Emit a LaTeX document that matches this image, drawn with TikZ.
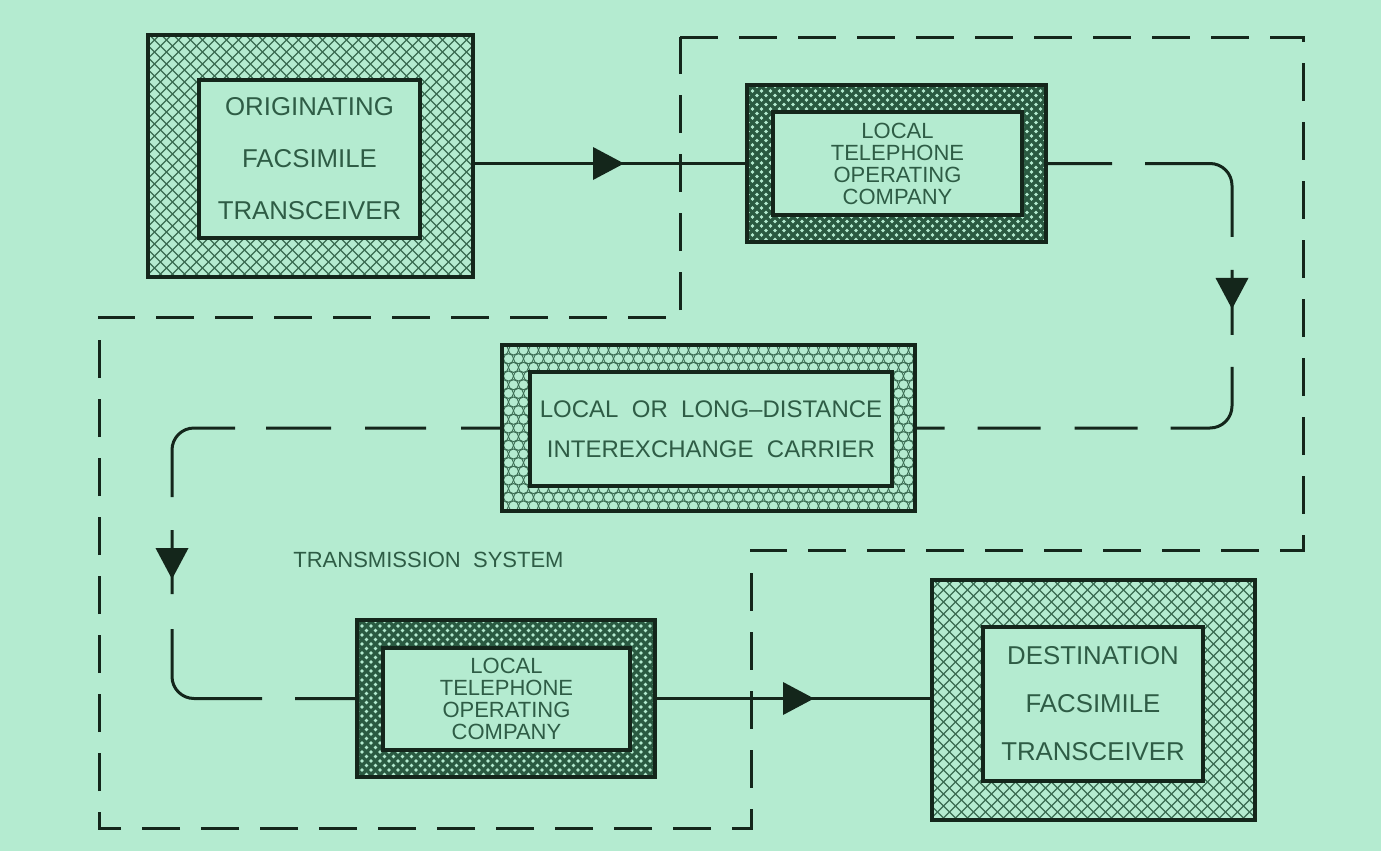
\documentclass[tikz,border=0pt]{standalone}
\usepackage{fontspec}
\setmainfont{Liberation Sans}
\usetikzlibrary{decorations.markings}
\definecolor{bg}{HTML}{B4EBD0}
\definecolor{ink}{HTML}{14261B}
\definecolor{txt}{HTML}{2E5C45}
\definecolor{hatch}{HTML}{3A6B52}
\definecolor{dense}{HTML}{2A5A41}
\tikzset{
  lighthatch/.style={path picture={
    \begin{scope}[shift={(path picture bounding box.center)}]
      \foreach \k in {-636,-624,...,640}{
        \draw[hatch, line width=0.55pt] (\k,-320) -- ++(640,640);
        \draw[hatch, line width=0.55pt] (\k,-320) -- ++(-640,640);}
    \end{scope}}},
  densehatch/.style={path picture={
    \begin{scope}[shift={(path picture bounding box.center)}]
      \foreach \k in {-639,-630,...,640}{
        \draw[dense, line width=1.75pt] (\k,-320) -- ++(640,640);
        \draw[dense, line width=1.75pt] (\k,-320) -- ++(-640,640);}
    \end{scope}}},
  honeycomb/.style={path picture={
    \begin{scope}[shift={(path picture bounding box.center)}]
      \foreach \r in {-11,...,11}{
        \foreach \c in {-22,...,22}{
          \pgfmathsetmacro\hx{\c*10+mod(abs(\r),2)*5}
          \draw[hatch, line width=0.45pt] ({\hx},{\r*8.66}) circle[radius=2.5pt];}}
    \end{scope}}},
  outerbox/.style={fill=bg, draw=ink, line width=2pt, inner sep=0pt},
  innerbox/.style={fill=bg, draw=ink, line width=2pt, inner sep=0pt, align=center, text=txt},
  conn/.style={draw=ink, line width=1.5pt, line cap=butt},
  bound/.style={draw=ink, line width=1.5pt, dash pattern=on 19pt off 10.5pt},
  tri/.style={postaction={decorate}, decoration={markings,
    mark=at position #1 with {\fill[ink, sharp corners] (0,0) -- (-31,16.5) -- (-31,-16.5) -- cycle;}}},
}
\begin{document}
\begin{tikzpicture}[x=0.5pt,y=-0.5pt]
\fill[bg] (0,0) rectangle (1381,851);
\useasboundingbox (0,0) rectangle (1381,851);

% transmission system boundary
\draw[bound] (680,37) -- (1303,37) -- (1303,550) -- (751,550) -- (751,828)
  -- (99,828) -- (99,317) -- (680,317) -- cycle;

% originating
\node[outerbox, lighthatch, minimum width=162.5pt, minimum height=121pt] (o1) at (310.5,156) {};
\node[innerbox, minimum width=110.5pt, minimum height=79pt,
  font=\fontsize{12.9}{26}\selectfont] (i1) at (309.5,159) {ORIGINATING\\FACSIMILE\\TRANSCEIVER};

% local telephone (top)
\node[outerbox, densehatch, minimum width=149.5pt, minimum height=78.5pt] (o2) at (896.5,163.5) {};
\node[innerbox, minimum width=124.5pt, minimum height=51.5pt,
  font=\fontsize{11}{11}\selectfont] (i2) at (897.5,163.5) {LOCAL\\TELEPHONE\\OPERATING\\COMPANY};

% carrier
\node[outerbox, honeycomb, minimum width=206.5pt, minimum height=83pt] (o3) at (708.5,428) {};
\node[innerbox, minimum width=181pt, minimum height=57pt,
  font=\fontsize{12}{20}\selectfont] (i3) at (711,429) {LOCAL\ \ OR\ \ LONG–DISTANCE\\INTEREXCHANGE\ \ CARRIER};

% local telephone (bottom)
\node[outerbox, densehatch, minimum width=149pt, minimum height=78.5pt] (o4) at (506,698.5) {};
\node[innerbox, minimum width=123.5pt, minimum height=51pt,
  font=\fontsize{11}{11}\selectfont] (i4) at (506.5,699) {LOCAL\\TELEPHONE\\OPERATING\\COMPANY};

% destination
\node[outerbox, lighthatch, minimum width=161.5pt, minimum height=120pt] (o5) at (1093.5,700) {};
\node[innerbox, minimum width=110pt, minimum height=77pt,
  font=\fontsize{12.9}{24}\selectfont] (i5) at (1093,704) {DESTINATION\\FACSIMILE\\TRANSCEIVER};

% label
\node[anchor=west, text=txt, inner sep=0pt, font=\fontsize{11}{13}\selectfont] (lbl) at (293,560) {TRANSMISSION\ \ SYSTEM};

% connectors
\coordinate (rc) at (1232,300);
\coordinate (lc) at (172,560);
\draw[conn, tri=74.5pt] (o1.east |- o2.west) -- (o2.west);
\draw[conn, rounded corners=11pt,
  dash pattern=on 32pt off 16.5pt on 75.5pt off 16.5pt on 32.5pt off 16pt on 56.5pt off 16.5pt on 31.5pt off 17pt on 31.5pt off 16.5pt on 30pt,
  tri=160pt] (o2.east) -| (rc) |- (o3.east);
\draw[conn, rounded corners=11pt,
  dash pattern=on 19.5pt off 17.5pt on 30.5pt off 17pt on 32.5pt off 15.5pt on 61.3pt off 16.5pt on 32pt off 17.5pt on 75pt off 16.5pt on 40pt,
  tri=234.8pt] (o3.west) -| (lc) |- (o4.west);
\draw[conn, tri=78.5pt] (o4.east) -- (o4.east -| o5.west);
\end{tikzpicture}
\end{document}
